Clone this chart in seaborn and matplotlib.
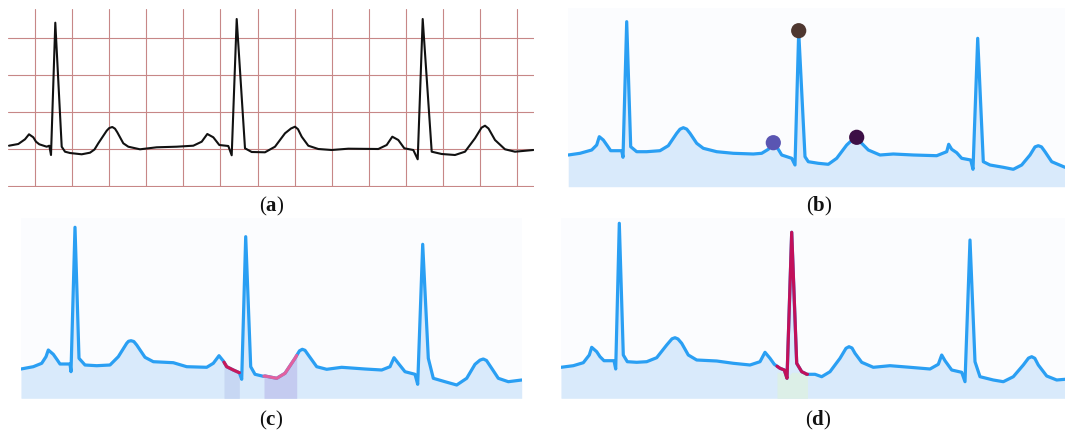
import numpy as np
import pandas as pd
import matplotlib
matplotlib.use("Agg")
import matplotlib.pyplot as plt
import seaborn as sns

sns.set_theme(style="white")
plt.rcParams["mathtext.fontset"] = "custom"
plt.rcParams["mathtext.rm"] = "Liberation Serif"
plt.rcParams["mathtext.bf"] = "Liberation Serif:bold"

# ---------------- data (time along strip, amplitude above the strip bottom) -------------
a_t = [1, 10.3, 17, 21, 25.3, 28, 31.3, 38.7, 41.3, 43, 47.3, 53.7, 57, 62, 73.7, 82, 86.5,
       90.3, 98.7, 101.3, 104.3, 107, 109.3, 115.3, 120.3, 132, 148.7, 168.7, 185.3, 193.7,
       199.3, 205.3, 211.3, 220.3, 223.7, 228.7, 237, 243.7, 257, 267, 277, 283, 287, 290,
       293.7, 300.3, 310.3, 323.7, 340.3, 370.3, 378.7, 384.3, 390.3, 396.3, 405.3, 409.7,
       414.7, 423.7, 433.7, 447, 457, 467, 473.5, 477, 480.5, 487, 497, 507, 525.3]
a_v = [40.3, 42, 46.7, 51.7, 48.7, 44.3, 41.7, 39.3, 40.3, 31, 163.3, 39.3, 34.3, 33, 31.7,
       33.3, 36.5, 42.7, 55.3, 58.0, 59, 57.3, 53.7, 42.7, 39.3, 36.7, 38.7, 39.3, 40.3, 44.3,
       52, 48.7, 41, 40, 30.7, 167, 37.7, 34, 33.7, 39.3, 52.7, 57.5, 59.3, 56.8, 49.3, 40.3,
       37, 36, 37.3, 37, 41, 49.3, 46, 37.7, 36, 26.7, 167, 34.3, 32, 31, 34.3, 47.7, 58.3,
       60.3, 57.5, 46, 36.7, 34.3, 36]

b_t = [0.3, 12, 23.7, 28.7, 31.3, 35.3, 39.3, 42.7, 53.7, 55, 58.7, 62.7, 68.7, 78.7, 92,
       100.3, 108.7, 112, 115.3, 118.7, 122, 128.7, 135.3, 148.7, 165.3, 185.3, 193.7, 200.3,
       205.3, 210.3, 213.7, 223.7, 227, 230.7, 237, 240.3, 250.3, 260.3, 268.7, 278.7, 287,
       293.7, 300.3, 312, 325.3, 345.3, 368.7, 378.7, 380.7, 383.7, 388.7, 393.7, 402.7, 405,
       409.7, 415.3, 422, 435.3, 445.3, 453.7, 462, 467, 470.3, 473.5, 477, 483.7, 497]
b_v = [31.7, 33.4, 36.7, 41.7, 50, 46.7, 41, 36, 36, 29.4, 165, 40, 35, 35, 36, 41, 53.4,
       57.5, 59, 57.6, 53.4, 43.4, 38.4, 35, 33.4, 32.7, 33.4, 37.4, 43.4, 37.4, 31.7, 28.4,
       21.7, 155, 30, 25, 23.4, 22.4, 28.4, 41.7, 49.4, 43.4, 36.7, 31.7, 32.7, 31.7, 31, 35,
       42.4, 37.4, 34, 28.4, 26.7, 17.4, 148.4, 25, 21.7, 19.4, 17.4, 21.7, 31.7, 39.8, 41,
       39.8, 35, 25, 19.4]
b_marker_t = [205.3, 230.7, 288.7]
b_marker_v = [44.0, 156.0, 49.4]
b_marker_names = ["P", "R", "T"]

c_t = [0, 12.3, 20.7, 25, 27.3, 32.3, 36.3, 39, 49, 50, 54, 58, 64, 75.7, 89, 97.3, 105.7,
       107.5, 110, 112.8, 115.7, 124, 132.3, 152.3, 165.7, 185.7, 192.3, 198, 202.3, 205.7,
       212.3, 218.3, 220.7, 224.7, 229.7, 234, 242.3, 244, 255.7, 264, 274, 278.5, 281.3, 284,
       287.3, 295.7, 305.7, 320.7, 344, 360.7, 369, 373, 377.3, 384, 394, 396.7, 401.7, 407.3,
       412.3, 424, 435.7, 445.7, 454, 459, 462.3, 465.5, 470.7, 477.3, 487.3, 500.7]
c_v = [29.3, 31.6, 35, 41.6, 48.3, 44, 38.3, 34.3, 34.3, 26.6, 171, 40, 33.3, 32.6, 33.3,
       41.6, 55, 57, 57.6, 56.8, 53.3, 41, 36.6, 35.6, 31.6, 31, 35, 42.6, 37.3, 31.6, 28.3,
       25.6, 19, 161.6, 31.6, 24, 22, 22.3, 20, 25, 40, 47.5, 49, 48, 43.3, 31.6, 29, 31, 29.3,
       28.3, 31.6, 40.6, 35, 26.6, 24, 14, 154, 40, 20, 16.6, 13.3, 20, 34, 38.2, 39.3, 37.8,
       30, 20, 16.6, 18.3]
c_windows = [(203.0, 218.3), (243.0, 275.7)]

d_t = [0, 12.3, 22.3, 28.3, 30.7, 35.7, 39, 43, 53, 54.7, 58.3, 62.3, 66.3, 75.7, 85.7,
       95.7, 105.7, 111, 114, 117, 120.7, 127.3, 135.7, 155.7, 172.3, 189, 199, 204, 209,
       213.3, 219, 223.3, 226, 230.7, 235.7, 240.7, 244, 245.7, 254, 260.7, 269, 279, 285, 288,
       291, 294, 300.7, 312.3, 329, 349, 369, 377.3, 380.7, 384, 390.7, 400.7, 404, 409, 414,
       419, 432.3, 442.3, 452.3, 462.3, 467.5, 470.7, 473.8, 477.3, 485.7, 495.7, 504]
d_v = [31, 32.6, 35.6, 43.3, 51, 46.6, 41.6, 37.6, 37.6, 29.3, 175, 43.3, 36.6, 36, 36.6,
       40.6, 53.3, 59.5, 60.6, 59.3, 55, 43.3, 38.3, 37.3, 35, 33.3, 36.6, 46, 40, 34, 30,
       28.3, 20, 166, 35, 26.6, 25, 24, 24, 21.6, 26.6, 40, 50, 51.6, 50.3, 45, 36, 31, 32.6,
       31, 29.3, 34, 43.3, 37.6, 28.3, 26, 16.6, 158.3, 36.6, 21.6, 18.3, 16.6, 21.6, 33.3,
       40.2, 41.6, 40, 33.3, 22.3, 18.3, 19]
d_window = (216.0, 246.5)

panel_labels = ["a", "b", "c", "d"]

# ---------------- layout ----------------
W, H = 1065, 433
fig = plt.figure(figsize=(W / 100, H / 100), dpi=100)
fig.patch.set_facecolor("white")

LINE = "#2a9ff3"
FILL = "#d9eafb"


def add_axes(x0, y0, x1, y1):
    ax = fig.add_axes([x0 / W, 1 - y1 / H, (x1 - x0) / W, (y1 - y0) / H])
    ax.set_axis_off()
    return ax


def segment(t, v, lo, hi):
    t = np.asarray(t, float)
    v = np.asarray(v, float)
    m = (t > lo) & (t < hi)
    ts = np.concatenate([[lo], t[m], [hi]])
    vs = np.concatenate([[np.interp(lo, t, v)], v[m], [np.interp(hi, t, v)]])
    return ts, vs


def draw_line(ax, t, v, color, lw, z=3):
    df = pd.DataFrame({"t": t, "v": v})
    sns.lineplot(data=df, x="t", y="v", ax=ax, color=color, linewidth=lw,
                 sort=False, estimator=None, zorder=z, solid_joinstyle="round",
                 solid_capstyle="round")


def monitor_panel(ax, t, v, w, h):
    ax.set_xlim(0, w)
    ax.set_ylim(0, h)
    ax.add_patch(plt.Rectangle((0, 0), w, h, color="#fbfcfe", zorder=0, lw=0))
    ax.fill_between(t, 0, v, color=FILL, lw=0, zorder=1)
    draw_line(ax, t, v, LINE, 2.3)


# (a) ECG paper strip
ax_a = add_axes(8, 8.7, 534, 187.5)
ax_a.set_xlim(0, 526)
ax_a.set_ylim(-1.5, 177.3)
grid_step = 37.1
for gx in np.arange(27, 526, grid_step):
    ax_a.axvline(gx, color="#c78787", lw=0.8, zorder=1)
for gy in np.arange(0, 170, grid_step):
    ax_a.axhline(gy, color="#c78787", lw=0.8, zorder=1)
draw_line(ax_a, a_t, a_v, "#111111", 1.5)

# (b) detected fiducial points
ax_b = add_axes(568, 8, 1065, 186.7)
monitor_panel(ax_b, b_t, b_v, 497, 178.7)
mk = pd.DataFrame({"t": b_marker_t, "v": b_marker_v, "k": b_marker_names})
sns.scatterplot(data=mk, x="t", y="v", hue="k", ax=ax_b, s=120, linewidth=0,
                palette={"P": "#5a55b2", "R": "#4e3730", "T": "#3c0f46"},
                legend=False, zorder=5)

# (c) highlighted intervals
ax_c = add_axes(21, 218, 522, 398.3)
monitor_panel(ax_c, c_t, c_v, 501, 180.3)
for (lo, hi), fc, lc in zip(c_windows, ["#c7d7f3", "#c4cbf0"], ["#c8185a", "#e2609f"]):
    ts, vs = segment(c_t, c_v, lo, hi)
    ax_c.fill_between(ts, 0, vs, color=fc, lw=0, zorder=2)
    draw_line(ax_c, ts, vs, lc, 2.3, z=4)

# (d) highlighted beat
ax_d = add_axes(561, 218, 1065, 398.3)
monitor_panel(ax_d, d_t, d_v, 504, 180.3)
ts, vs = segment(d_t, d_v, *d_window)
ax_d.fill_between(ts, 0, np.minimum(vs, 26), color="#dcefe7", lw=0, zorder=2)
draw_line(ax_d, ts, vs, "#c2105a", 2.3, z=4)

# panel labels
for lab, (x, y) in zip(panel_labels, [(271.5, 206), (819, 206), (271, 420), (818, 420)]):
    fig.text(x / W, 1 - y / H, r"$\mathrm{(}\mathbf{%s}\mathrm{)}$" % lab,
             ha="center", va="center", fontsize=15, color="#111111")

fig.savefig("out.png", dpi=100, facecolor="white")
